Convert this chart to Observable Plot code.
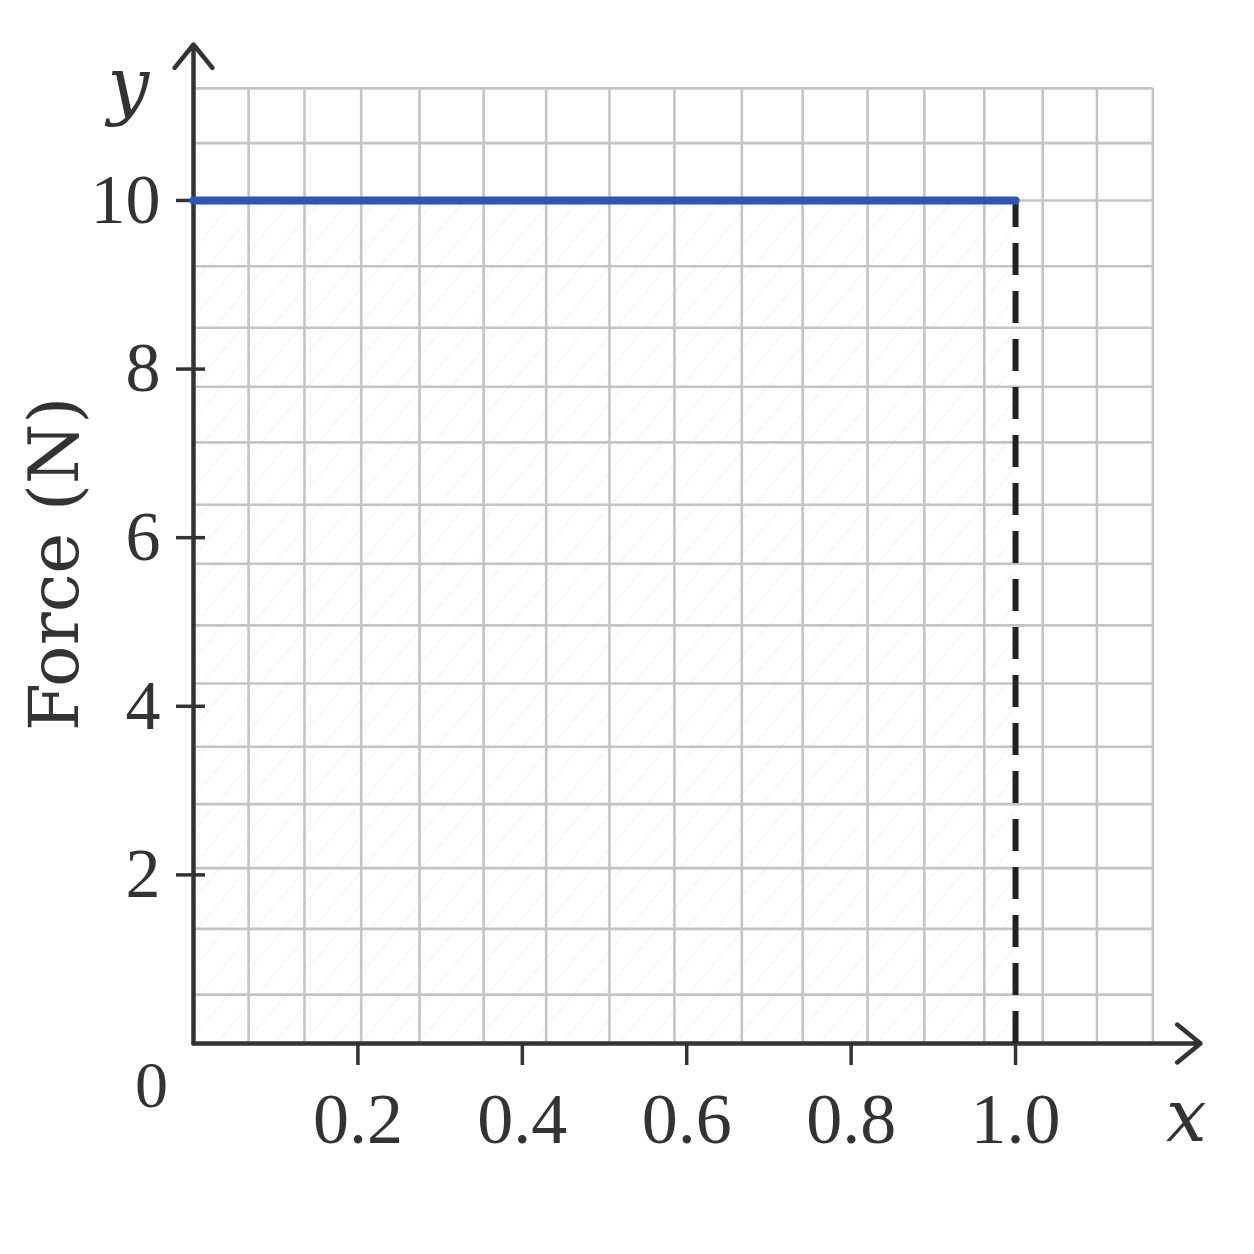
<!DOCTYPE html>
<html>
<head>
<meta charset="utf-8">
<script src="https://cdn.jsdelivr.net/npm/d3@7"></script>
<script src="https://cdn.jsdelivr.net/npm/@observablehq/plot@0.6"></script>
<style>
  html, body { margin: 0; padding: 0; background: #fff; }
  #chart svg { display: block; }
</style>
</head>
<body>
<div id="chart"></div>
<script>
// ---- data ----
const xTicks = [0.2, 0.4, 0.6, 0.8, 1.0];
const xTickLabels = ["0.2", "0.4", "0.6", "0.8", "1.0"];
const yTicks = [2, 4, 6, 8, 10];
const yTickLabels = ["2", "4", "6", "8", "10"];
const displacement = [0, 1.0];      // x
const force = [10, 10];             // Force (N)
const gridX = [0.067, 0.135, 0.204, 0.275, 0.353, 0.429, 0.506, 0.585, 0.667, 0.741, 0.820, 0.889, 0.962, 1.033, 1.099, 1.167];
const gridY = [0.58, 1.36, 2.08, 2.84, 3.52, 4.27, 4.96, 5.69, 6.39, 7.13, 7.79, 8.49, 9.22, 10.0, 10.68, 11.33];

const forceData = displacement.map((x, i) => ({x, y: force[i]}));
const xMax = 1.225, yMax = 11.85;
const gridRight = gridX[gridX.length - 1];
const gridTop = gridY[gridY.length - 1];
const ink = "#333";
const numFont = "Liberation Serif";

const plot = Plot.plot({
  width: 1254,
  height: 1254,
  marginLeft: 193,
  marginRight: 54,
  marginTop: 44,
  marginBottom: 211,
  x: {domain: [0, xMax]},
  y: {domain: [0, yMax]},
  style: {background: "#fff", color: ink},
  marks: [
    // hatched area under the force line
    Plot.rect([{x1: displacement[0], x2: displacement[1], y1: 0, y2: force[0]}],
      {x1: "x1", x2: "x2", y1: "y1", y2: "y2", fill: "url(#hatch)"}),
    // grid
    Plot.ruleX(gridX, {y1: 0, y2: gridTop, stroke: "#c4c4c4", strokeWidth: 2.6}),
    Plot.ruleY(gridY, {x1: 0, x2: gridRight, stroke: "#c4c4c4", strokeWidth: 2.6}),
    // axes with arrows
    Plot.arrow([{x1: 0, y1: 0, x2: 0, y2: yMax}],
      {x1: "x1", y1: "y1", x2: "x2", y2: "y2", stroke: ink, strokeWidth: 4.5, headLength: 10, headAngle: 78}),
    Plot.arrow([{x1: 0, y1: 0, x2: xMax, y2: 0}],
      {x1: "x1", y1: "y1", x2: "x2", y2: "y2", stroke: ink, strokeWidth: 4.5, headLength: 10, headAngle: 78}),
    // y ticks + labels
    Plot.axisY(yTicks, {
      tickSize: 29, dx: 12, tickPadding: 16, tickFormat: (d, i) => yTickLabels[i],
      stroke: ink, strokeWidth: 3.5, fill: ink, fontSize: 70, fontFamily: numFont, label: null
    }),
    // x ticks + labels
    Plot.axisX(xTicks, {
      tickSize: 22, tickPadding: 26, tickFormat: (d, i) => xTickLabels[i],
      stroke: ink, strokeWidth: 3.5, fill: ink, fontSize: 72, fontFamily: numFont, label: null
    }),
    // origin label
    Plot.text(["0"], {x: 0, y: 0, text: d => d, dx: -42, dy: 42, fontSize: 66, fontFamily: numFont, fill: ink}),
    // dashed drop line at x = 1.0
    Plot.ruleX([displacement[1]], {y1: 0, y2: force[1], stroke: "#222", strokeWidth: 6, strokeDasharray: "32,16"}),
    // force line
    Plot.line(forceData, {x: "x", y: "y", stroke: "#2a55bd", strokeWidth: 8, strokeLinecap: "round"}),
    // axis names
    Plot.text(["x"], {frameAnchor: "bottom-right", text: d => d, dx: 6, dy: 97, fontSize: 72, fontStyle: "italic", fontFamily: "DejaVu Serif", fill: ink}),
    Plot.text(["y"], {frameAnchor: "top-left", text: d => d, dx: -86, dy: 13, fontSize: 74, fontStyle: "italic", fontFamily: "DejaVu Serif", fill: ink}),
    Plot.text(["Force (N)"], {frameAnchor: "left", text: d => d, rotate: -90, dx: -138, dy: 187, fontSize: 69, fontFamily: "DejaVu Serif", fill: ink})
  ]
});

// hatch pattern definition
const defs = d3.select(plot).insert("defs", ":first-child");
const pat = defs.append("pattern")
  .attr("id", "hatch")
  .attr("patternUnits", "userSpaceOnUse")
  .attr("width", 22).attr("height", 22)
  .attr("patternTransform", "rotate(40)");
pat.append("line")
  .attr("x1", 0).attr("y1", 0).attr("x2", 0).attr("y2", 22)
  .attr("stroke", "#d8dbe8").attr("stroke-width", 1.3).attr("stroke-opacity", 0.55);

document.getElementById("chart").appendChild(plot);
</script>
</body>
</html>
